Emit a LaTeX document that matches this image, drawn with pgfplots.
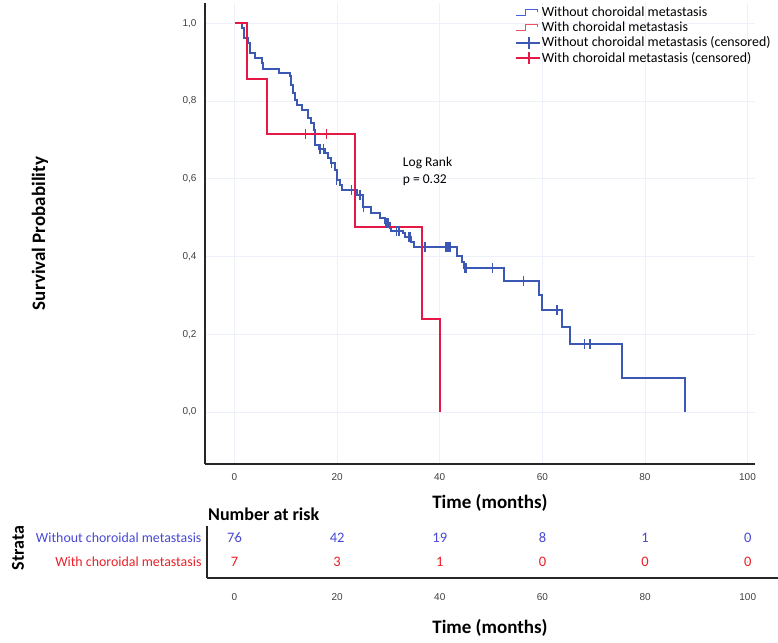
\documentclass[border=0pt]{standalone}
\usepackage{pgfplots}
\pgfplotsset{compat=1.18}
\usepackage{fontspec}
\setmainfont{Carlito}
\newfontfamily\tickfont{Liberation Sans}
\definecolor{bluel}{RGB}{58,88,180}
\definecolor{redl}{RGB}{230,25,70}
\definecolor{bluelg}{RGB}{70,100,215}
\definecolor{redlg}{RGB}{235,80,105}
\definecolor{rblue}{RGB}{72,72,215}
\definecolor{rred}{RGB}{232,32,40}
\definecolor{gridc}{RGB}{238,241,250}
\begin{document}
\begin{tikzpicture}
\path[use as bounding box] (0pt,0pt) rectangle (778pt,-642pt);
\begin{axis}[
  at={(205pt,-464pt)}, anchor=south west,
  scale only axis, width=550pt, height=461pt,
  xmin=-5.75, xmax=101.46, ymin=-0.134, ymax=1.052,
  axis x line*=bottom, axis y line*=left,
  axis line style={line width=1.8pt, black!85},
  xtick={0,20,40,60,80,100},
  ytick={0,0.2,0.4,0.6,0.8,1},
  yticklabels={{0,0},{0,2},{0,4},{0,6},{0,8},{1,0}},
  major tick length=0pt,
  grid=major, grid style={line width=0.5pt, gridc},
  /pgf/number format/assume math mode=true,
  tick label style={font=\tickfont\fontsize{10}{12}\selectfont, black!75},
  xticklabel style={yshift=-6pt},
  yticklabel style={xshift=-5pt},
  xlabel={Time (months)},
  xlabel style={at={(axis description cs:0.518,-0.085)}, anchor=center, font=\bfseries\fontsize{19}{22}\selectfont},
  ylabel={Survival Probability},
  ylabel style={at={(axis description cs:-0.300,0.5)}, anchor=center, font=\bfseries\fontsize{19}{22}\selectfont},
  legend style={at={(axis description cs:0.563,0.995)}, anchor=north west, draw=none, fill=none,
     font=\fontsize{13.9}{15}\selectfont, inner sep=0pt, row sep=1.5pt,
     nodes={inner sep=1.2pt}},
  legend cell align=left,
]
\addplot[const plot, bluel, line width=2pt,
  legend image code/.code={\draw[draw=bluelg, line width=1.1pt] (0pt,-3pt) -- (10pt,-3pt) -- (10pt,3pt) -- (22pt,3pt) -- (22pt,0pt);}]
coordinates {(0,1) (1.4,0.987) (1.9,0.961) (2.7,0.949) (3.0,0.923) (4.0,0.910) (5.3,0.897) (5.6,0.882) (8.7,0.871) (10.8,0.863) (11.1,0.841) (11.5,0.820) (11.8,0.803) (12.1,0.790) (13.1,0.777) (14.4,0.756) (15.0,0.743) (15.4,0.725) (15.7,0.687) (16.4,0.677) (17.6,0.666) (18.3,0.653) (18.9,0.640) (19.6,0.623) (19.9,0.597) (20.6,0.584) (20.9,0.571) (23.8,0.558) (25.1,0.528) (26.7,0.511) (28.4,0.498) (29.3,0.485) (30.3,0.473) (30.6,0.466) (32.9,0.460) (33.2,0.451) (34.5,0.438) (34.9,0.425) (43.4,0.400) (44.4,0.386) (44.8,0.370) (52.6,0.337) (59.4,0.300) (60.0,0.263) (63.8,0.218) (65.4,0.174) (75.5,0.086) (87.8,0.086) (87.8,0)};
\addlegendentry{Without choroidal metastasis}
\addplot[const plot, redl, line width=2pt,
  legend image code/.code={\draw[draw=redlg, line width=1.1pt] (0pt,-3pt) -- (10pt,-3pt) -- (10pt,3pt) -- (22pt,3pt) -- (22pt,0pt);}]
coordinates {(0,1) (2.4,0.857) (6.4,0.714) (23.4,0.476) (36.5,0.238) (40.1,0.238) (40.1,0)};
\addlegendentry{With choroidal metastasis}
\addplot[only marks, mark=|, mark size=5pt, bluel, mark options={line width=1.5pt},
  legend image code/.code={\draw[draw=bluel, line width=1.8pt] (0pt,0pt) -- (24pt,0pt); \draw[draw=bluel, line width=1.8pt] (13pt,-6pt) -- (13pt,6pt);}]
coordinates {(16.7,0.677) (17.3,0.677) (18.9,0.640) (19.9,0.597) (22.8,0.571) (24.5,0.558) (25.1,0.528) (29.5,0.485) (29.9,0.485) (31.6,0.466) (32.1,0.466) (34.0,0.451) (34.3,0.451) (37.1,0.425) (41.2,0.425) (41.6,0.425) (42.0,0.425) (44.9,0.370) (45.1,0.370) (50.3,0.370) (56.3,0.337) (62.9,0.263) (68.2,0.174) (69.3,0.174)};
\addlegendentry{Without choroidal metastasis (censored)}
\addplot[only marks, mark=|, mark size=5pt, redl, mark options={line width=1.5pt},
  legend image code/.code={\draw[draw=redl, line width=1.8pt] (0pt,0pt) -- (24pt,0pt); \draw[draw=redl, line width=1.8pt] (13pt,-6pt) -- (13pt,6pt);}]
coordinates {(13.8,0.714) (17.9,0.714)};
\addlegendentry{With choroidal metastasis (censored)}
\node[anchor=north west, align=left, font=\fontsize{13.5}{17}\selectfont, inner sep=0pt] at (axis cs:32.8,0.656) {Log Rank\\p = 0.32};
\end{axis}
\node[anchor=base west, font=\bfseries\fontsize{18}{20}\selectfont, inner sep=0pt] at (208pt,-520pt) {Number at risk};
\begin{axis}[
  at={(207pt,-578pt)}, anchor=south west,
  scale only axis, width=571pt, height=52pt,
  xmin=-5.36, xmax=105.9, ymin=0, ymax=2.167,
  axis x line*=bottom, axis y line*=left,
  axis line style={line width=1.8pt, black!85},
  xtick={0,20,40,60,80,100},
  ytick={0.667,1.667},
  yticklabels={\textcolor{rred}{With choroidal metastasis},\textcolor{rblue}{Without choroidal metastasis}},
  major tick length=0pt,
  /pgf/number format/assume math mode=true,
  xticklabel style={font=\tickfont\fontsize{10}{12}\selectfont, black!75, yshift=-12pt},
  yticklabel style={font=\fontsize{13.9}{15}\selectfont, xshift=-2pt},
  xlabel={Time (months)},
  xlabel style={at={(axis description cs:0.4956,-0.96)}, anchor=center, font=\bfseries\fontsize{19}{22}\selectfont},
  ylabel={Strata},
  ylabel style={at={(axis description cs:-0.331,0.577)}, anchor=center, font=\bfseries\fontsize{18}{20}\selectfont},
  clip=false,
]
\addplot[only marks, mark=*, mark size=0.01pt, mark options={draw=none, fill=none},
  nodes near coords, point meta=explicit symbolic,
  every node near coord/.style={anchor=center, text=rblue, font=\fontsize{14.5}{16}\selectfont}]
coordinates {(0,1.667)[76] (20,1.667)[42] (40,1.667)[19] (60,1.667)[8] (80,1.667)[1] (100,1.667)[0]};
\addplot[only marks, mark=*, mark size=0.01pt, mark options={draw=none, fill=none},
  nodes near coords, point meta=explicit symbolic,
  every node near coord/.style={anchor=center, text=rred, font=\fontsize{14.5}{16}\selectfont}]
coordinates {(0,0.667)[7] (20,0.667)[3] (40,0.667)[1] (60,0.667)[0] (80,0.667)[0] (100,0.667)[0]};
\end{axis}
\end{tikzpicture}
\end{document}
